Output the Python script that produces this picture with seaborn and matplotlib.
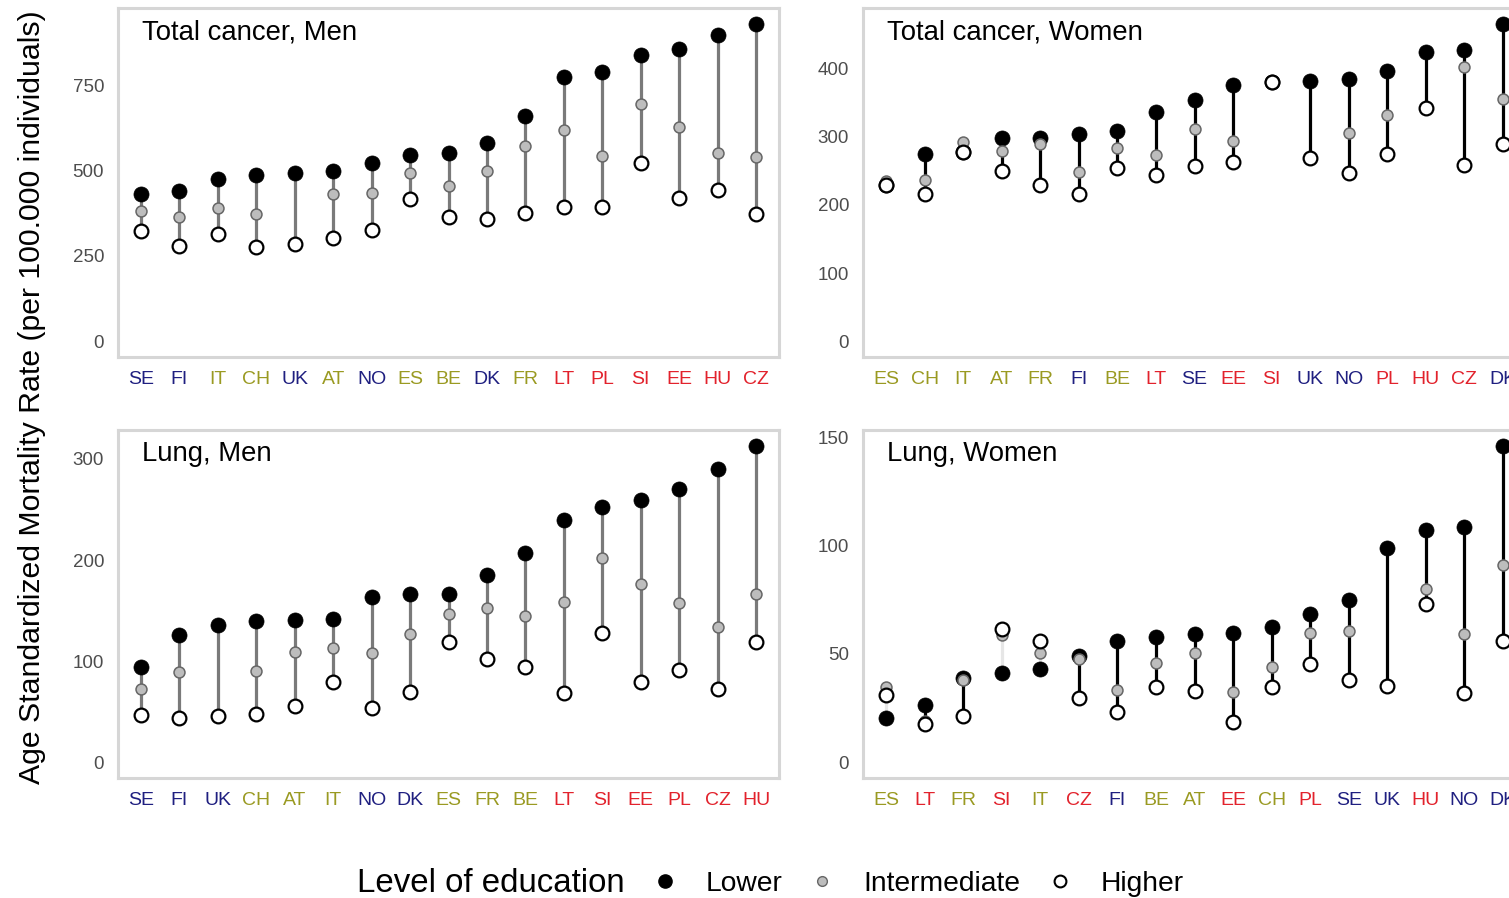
import numpy as np
import pandas as pd
import seaborn as sns
import matplotlib.pyplot as plt
from matplotlib.lines import Line2D

# Total cancer, men
tm_countries = ['SE', 'FI', 'IT', 'CH', 'UK', 'AT', 'NO', 'ES', 'BE', 'DK', 'FR', 'LT', 'PL', 'SI', 'EE', 'HU', 'CZ']
tm_lower = [433, 441, 477, 488, 492, 498, 522, 546, 551, 580, 661, 775, 791, 841, 856, 897, 931]
tm_inter = [382, 365, 390, 373, np.nan, 433, 435, 494, 455, 498, 572, 620, 542, 696, 629, 552, 539]
tm_higher = [324, 279, 314, 276, 286, 302, 327, 418, 365, 358, 377, 394, 394, 523, 420, 443, 373]

# Total cancer, women
tw_countries = ['ES', 'CH', 'IT', 'AT', 'FR', 'FI', 'BE', 'LT', 'SE', 'EE', 'SI', 'UK', 'NO', 'PL', 'HU', 'CZ', 'DK']
tw_lower = [229, 275, 278, 298, 299, 304, 308, 337, 354, 376, 381, 382, 385, 397, 425, 428, 466]
tw_inter = [235, 236, 292, 279, 289, 249, 284, 274, 311, 294, 381, np.nan, 306, 332, 343, 403, 355]
tw_higher = [229, 216, 278, 250, 230, 216, 255, 244, 257, 263, 381, 269, 247, 275, 343, 259, 289]

# Lung, men
lm_countries = ['SE', 'FI', 'UK', 'CH', 'AT', 'IT', 'NO', 'DK', 'ES', 'FR', 'BE', 'LT', 'SI', 'EE', 'PL', 'CZ', 'HU']
lm_lower = [94, 126, 136, 140, 141, 141.5, 163, 166, 166, 185, 207, 240, 252, 259.5, 270, 290, 313]
lm_inter = [72, 89, np.nan, 90, 109, 113, 108, 127, 147, 153, 145, 158, 202, 176, 157, 133.5, 166.5]
lm_higher = [46.5, 43.5, 45.5, 48, 56, 79, 54, 69, 119, 102, 94, 68, 128, 79, 91, 72, 119]

# Lung, women
lw_countries = ['ES', 'LT', 'FR', 'SI', 'IT', 'CZ', 'FI', 'BE', 'AT', 'EE', 'CH', 'PL', 'SE', 'UK', 'HU', 'NO', 'DK']
lw_lower = [20.5, 26.6, 39, 41, 43, 49, 56, 57.7, 59, 59.5, 62.3, 68.5, 75, 99, 107, 108.5, 146]
lw_inter = [34.6, 19, 37.7, 58.5, 50.3, 47.7, 33.4, 45.7, 50.5, 32.3, 43.8, 59.5, 60.5, np.nan, 80, 59, 91]
lw_higher = [31.2, 17.7, 21.5, 61.5, 56, 29.7, 23, 34.6, 33, 18.5, 34.6, 45.4, 37.7, 35, 73, 32, 56]

north = ['SE', 'FI', 'UK', 'NO', 'DK']
west = ['IT', 'CH', 'AT', 'ES', 'BE', 'FR']
east = ['LT', 'PL', 'SI', 'EE', 'HU', 'CZ']
region_colors = {'north': '#1f1f80', 'west': '#9a9a22', 'east': '#e2222c'}


def label_color(c):
    if c in north:
        return region_colors['north']
    if c in west:
        return region_colors['west']
    return region_colors['east']


sns.set_style('white')
plt.rcParams['font.family'] = ['Liberation Sans', 'DejaVu Sans']

W, H = 1509, 898
fig = plt.figure(figsize=(W / 100, H / 100), dpi=100)


def px_axes(left, top, right, bottom):
    return fig.add_axes([left / W, 1 - bottom / H, (right - left) / W, (bottom - top) / H])


def panel(ax, title, countries, lower, inter, higher, yticks, seg_color):
    df = pd.DataFrame({'country': countries, 'pos': np.arange(len(countries)),
                       'Lower': lower, 'Intermediate': inter, 'Higher': higher})
    # segments where the lower-educated rate is not above the higher one are drawn faint
    seg = np.where(df['Lower'] >= df['Higher'], seg_color, '#e6e6e6')
    ax.vlines(df['pos'], df['Lower'], df['Higher'], colors=seg, lw=2.3, zorder=1)
    sns.scatterplot(data=df, x='pos', y='Lower', ax=ax, color='black', s=118,
                    edgecolor='black', linewidth=0.5, zorder=2)
    sns.scatterplot(data=df, x='pos', y='Intermediate', ax=ax, color='#bdbdbd', s=62,
                    edgecolor='#666666', linewidth=1.1, zorder=3)
    sns.scatterplot(data=df, x='pos', y='Higher', ax=ax, color='white', s=98,
                    edgecolor='black', linewidth=1.6, zorder=4)
    top = np.nanmax(df[['Lower', 'Intermediate', 'Higher']].values)
    pad = 0.05 * top
    ax.set_ylim(-pad, top + pad)
    ax.set_xlim(-0.6, len(countries) - 0.4)
    ax.set_xticks(df['pos'])
    ax.set_xticklabels(countries, fontsize=14)
    for t, c in zip(ax.get_xticklabels(), countries):
        t.set_color(label_color(c))
    ax.set_yticks(yticks)
    ax.set_yticklabels([str(v) for v in yticks], fontsize=13.5, color='#4d4d4d')
    ax.tick_params(axis='both', length=5, width=1.6, color='#c8c8c8', pad=5)
    ax.set_xlabel('')
    ax.set_ylabel('')
    for sp in ax.spines.values():
        sp.set_color('#d6d6d6')
        sp.set_linewidth(2.2)
    ax.annotate(title, xy=(0, 1), xycoords='axes fraction', xytext=(17, -17.5),
                textcoords='offset points', fontsize=19.8, color='black', va='center', ha='left')


ax1 = px_axes(118, 8, 779, 357)
ax2 = px_axes(863, 8, 1526, 357)
ax3 = px_axes(118, 430, 779, 778)
ax4 = px_axes(863, 430, 1526, 778)

panel(ax1, 'Total cancer, Men', tm_countries, tm_lower, tm_inter, tm_higher, [0, 250, 500, 750], '#7a7a7a')
panel(ax2, 'Total cancer, Women', tw_countries, tw_lower, tw_inter, tw_higher, [0, 100, 200, 300, 400], 'black')
panel(ax3, 'Lung, Men', lm_countries, lm_lower, lm_inter, lm_higher, [0, 100, 200, 300], '#7a7a7a')
panel(ax4, 'Lung, Women', lw_countries, lw_lower, lw_inter, lw_higher, [0, 50, 100, 150], 'black')

fig.text(32 / W, 1 - 397 / H, 'Age Standardized Mortality Rate (per 100.000 individuals)',
         rotation=90, fontsize=21.8, color='black', ha='center', va='center')

fig.text(357 / W, 1 - 884 / H, 'Level of education', fontsize=23.8, color='black', ha='left', va='center')
handles = [
    Line2D([], [], ls='none', marker='o', markersize=9.5, markerfacecolor='black', markeredgecolor='black'),
    Line2D([], [], ls='none', marker='o', markersize=7, markerfacecolor='#bdbdbd', markeredgecolor='#666666'),
    Line2D([], [], ls='none', marker='o', markersize=8.5, markerfacecolor='white', markeredgecolor='black', markeredgewidth=1.5),
]
leg = fig.legend(handles, ['Lower', 'Intermediate', 'Higher'], ncol=3, frameon=False, fontsize=20.3,
                 loc='center left', bbox_to_anchor=(648 / W, 1 - 884 / H), handletextpad=0.85,
                 columnspacing=0.8, handlelength=1.2, borderaxespad=0, borderpad=0)
for t in leg.get_texts():
    t.set_color('black')

fig.savefig('out.png', dpi=100)
